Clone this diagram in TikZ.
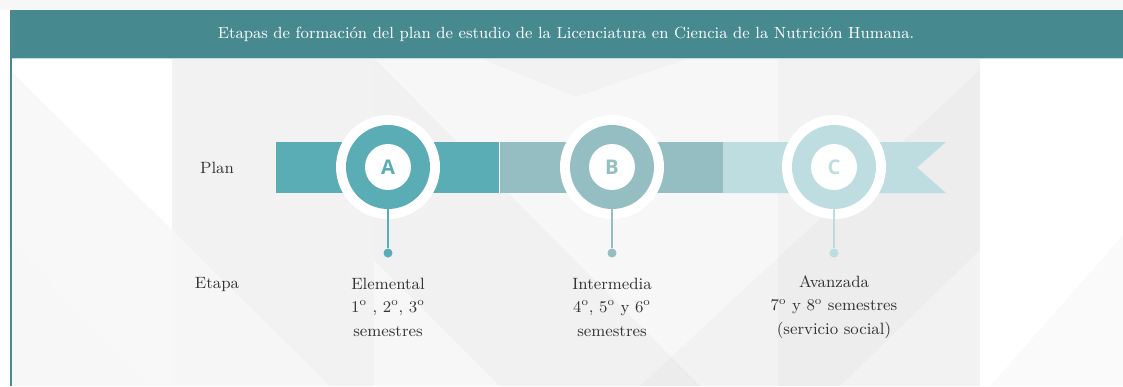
\documentclass[tikz,border=0pt]{standalone}
\usepackage{fontspec}
\newfontfamily\letterfont{Open Sans}
\usepackage{xcolor}
\usepackage{tikz}

\definecolor{headteal}{HTML}{468A90}
\definecolor{stageA}{HTML}{5AADB5}
\definecolor{stageB}{HTML}{94BEC2}
\definecolor{stageC}{HTML}{BEDDE0}
\definecolor{bandgray}{HTML}{F2F2F2}
\definecolor{bandlight}{HTML}{F7F7F7}
\definecolor{textgray}{HTML}{333333}

\tikzset{
  gapdisc/.style={circle, fill=white, minimum size=2.08cm, inner sep=0pt},
  ringdisc/.style={circle, fill=#1, minimum size=1.68cm, inner sep=0pt},
  letterdisc/.style={circle, fill=white, minimum size=0.92cm, inner sep=0pt,
    text=#1, font=\letterfont\bfseries\fontsize{11.5}{12}\selectfont},
  enddot/.style={circle, fill=#1, minimum size=0.18cm, inner sep=0pt},
  stem/.style={draw=#1, line width=1.2pt},
  stagetext/.style={align=center, text=textgray, font=\fontsize{9.3}{13.4}\selectfont}
}

\begin{document}
\begin{tikzpicture}[x=0.02cm, y=-0.02cm]
    \useasboundingbox (0,0) rectangle (1123,386);

    % Background
    \fill[white] (0,0) rectangle (1123,386);
    \fill[bandlight] (0,0) rectangle (1123,10);
    \fill[bandgray] (172,58) rectangle (374,386);
    \fill[bandlight] (374,58) rectangle (778,386);
    \fill[bandgray] (778,58) rectangle (980,386);
    \fill[bandgray, opacity=0.6] (10,240) -- (150,386) -- (10,386) -- cycle;
    \fill[bandlight, opacity=0.8] (10,70) -- (330,386) -- (150,386) -- (10,240) -- cycle;
    \fill[black, opacity=0.02] (480,58) -- (576,97) -- (690,58) -- cycle;
    \fill[black, opacity=0.025] (374,58) -- (700,386) -- (500,386) -- (374,260) -- cycle;
    \fill[black, opacity=0.02] (990,386) -- (1123,235) -- (1123,386) -- cycle;
    \fill[black, opacity=0.02] (640,386) -- (980,70) -- (980,250) -- (840,386) -- cycle;

    % Header
    \fill[headteal] (10,10) rectangle (1123,58);
    \draw[stageC, line width=0.6pt] (11,58.5) -- (1123,58.5);
    \draw[headteal, line width=1.2pt] (11,58) -- (11,386);
    \node[text=white, font=\fontsize{9.2}{11}\selectfont] (title) at (566,34)
        {Etapas de formación del plan de estudio de la Licenciatura en Ciencia de la Nutrición Humana.};

    % Row labels
    \node[stagetext] (plan) at (217,168) {Plan};
    \node[stagetext] (etapa) at (217,285) {Etapa};

    % Ribbon
    \fill[stageA] (276,142) rectangle (499,193);
    \fill[stageB] (499,142) rectangle (723,193);
    \fill[stageC] (723,142) -- (946,142) -- (917,167.5) -- (946,193) -- (723,193) -- cycle;
    \draw[white, line width=0.5pt] (499,142) -- (499,193);

    % Stage A
    \node[gapdisc] (gapA) at (388,167) {};
    \node[ringdisc=stageA] (ringA) at (388,167) {};
    \node[letterdisc=stageA] (letA) at (388,167) {A};
    \node[enddot=stageA] (dotA) at (388,253) {};
    \draw[stem=stageA] (ringA.south) -- (dotA);
    \node[stagetext] (textA) at (388,307) {Elemental\\1\textsuperscript{o} , 2\textsuperscript{o}, 3\textsuperscript{o}\\semestres};

    % Stage B
    \node[gapdisc] (gapB) at (612,167) {};
    \node[ringdisc=stageB] (ringB) at (612,167) {};
    \node[letterdisc=stageB] (letB) at (612,167) {B};
    \node[enddot=stageB] (dotB) at (612,253) {};
    \draw[stem=stageB] (ringB.south) -- (dotB);
    \node[stagetext] (textB) at (612,307) {Intermedia\\4\textsuperscript{o}, 5\textsuperscript{o} y 6\textsuperscript{o}\\semestres};

    % Stage C
    \node[gapdisc] (gapC) at (834,167) {};
    \node[ringdisc=stageC] (ringC) at (834,167) {};
    \node[letterdisc=stageC] (letC) at (834,167) {C};
    \node[enddot=stageC] (dotC) at (834,253) {};
    \draw[stem=stageC] (ringC.south) -- (dotC);
    \node[stagetext] (textC) at (834,307) {Avanzada\\7\textsuperscript{o} y 8\textsuperscript{o} semestres\\(servicio social)};
\end{tikzpicture}
\end{document}
